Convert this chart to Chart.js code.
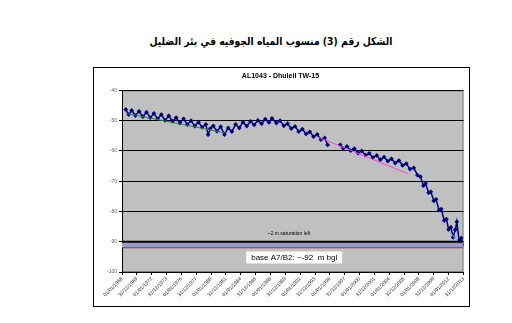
<!DOCTYPE html>
<html>
<head>
<meta charset="utf-8">
<script src="https://cdn.jsdelivr.net/npm/chart.js@4"></script>
<style>
    body { margin: 0; width: 512px; height: 323px; background: #fff; position: relative; overflow: hidden; }
    #titre { position: absolute; left: 0; top: 35px; width: 542px; text-align: center; font: bold 11px "DejaVu Sans"; direction: rtl; color: #000; transform: scaleX(0.84); transform-origin: 271px 0; }
    #cadre { position: absolute; left: 93px; top: 67px; width: 375px; height: 238px; border: 1px solid #000; }
</style>
</head>
<body>
<div id="titre">الشكل رقم (3) منسوب المياه الجوفيه في بئر الضليل</div>
<div id="cadre"><canvas id="graf" width="375" height="238"></canvas></div>
<script>
// fechas (año decimal) y nivel del agua (m)
const sampleYears = [
    1968.5, 1968.9, 1969.3, 1969.8, 1970.3, 1970.8, 1971.3, 1971.8, 1972.3, 1972.8,
    1973.3, 1973.8, 1974.3, 1974.8, 1975.3, 1975.8, 1976.3, 1976.8, 1977.3, 1977.8,
    1978.3, 1978.8, 1979.3, 1979.6, 1979.9, 1980.3, 1980.8, 1981.3, 1981.8, 1982.3,
    1982.8, 1983.3, 1983.8, 1984.3, 1984.8, 1985.3, 1985.8, 1986.3, 1986.8, 1987.3,
    1987.8, 1988.2, 1988.8, 1989.3, 1989.8, 1990.3, 1990.8, 1991.3, 1991.8, 1992.3,
    1992.8, 1993.3, 1993.8, 1994.3, 1994.8, 1995.3, 1995.7, 1996.5, 1997.4, 1997.8,
    1998.3, 1998.8, 1999.3, 1999.8, 2000.3, 2000.8, 2001.3, 2001.8, 2002.3, 2002.8,
    2003.3, 2003.8, 2004.3, 2004.8, 2005.3, 2005.8, 2006.3, 2006.8, 2007.3, 2007.8,
    2008.2, 2008.6, 2008.9, 2009.3, 2009.6, 2010.0, 2010.3, 2010.7, 2011.0, 2011.4,
    2011.7, 2012.0, 2012.3, 2012.6, 2012.9, 2013.1, 2013.4, 2013.7, 2013.9
];
const waterLevel = [
    -46.3, -48.0, -46.6, -48.3, -46.9, -48.7, -47.2, -49.0, -47.6, -49.4,
    -48.0, -49.9, -48.4, -50.2, -49.0, -50.8, -49.4, -51.3, -50.0, -51.8,
    -50.5, -52.2, -51.2, -54.6, -52.6, -51.7, -53.5, -52.0, -54.6, -52.4,
    -53.6, -51.2, -52.4, -50.5, -51.8, -50.2, -51.4, -49.9, -51.0, -49.5,
    -50.6, -49.2, -50.8, -50.0, -51.7, -51.0, -52.6, -51.9, -53.6, -52.8,
    -54.4, -53.7, -55.3, -54.5, -56.3, -55.7, -58.0, null, -58.0, -59.2,
    -58.5, -59.9, -59.2, -60.7, -60.0, -61.4, -60.8, -62.2, -61.5, -62.9,
    -62.0, -63.4, -62.6, -64.0, -63.2, -64.8, -64.2, -66.0, -65.6, -68.0,
    -68.5, -71.5, -70.8, -73.8, -73.5, -76.5, -76.0, -79.5, -79.2, -83.0,
    -82.5, -86.0, -85.2, -88.5, -86.0, -83.4, -89.6, -88.8, -91.0
];

// lineas de tendencia
const greenYears = [1968.6, 1981.8];
const greenLevel = [-47.6, -54.0];
const pinkYears = [1994.5, 2006.5];
const pinkLevel = [-55.5, -67.5];
const cyanYears = [2012.0, 2013.9];
const cyanLevel = [-86.5, -91.5];

// base del acuifero
const bandYears = [1968, 2014];
const bandTop = [-90, -90];
const bandBottom = [-92, -92];

// ejes
const tickYears = [1968, 1970, 1972, 1974, 1976, 1978, 1980, 1982, 1984, 1986, 1988, 1990,
    1992, 1994, 1996, 1998, 2000, 2002, 2004, 2006, 2008, 2010, 2012, 2014];
const tickLabels = ["01/01/1968", "31/12/1969", "01/01/1972", "31/12/1973", "01/01/1976", "31/12/1977",
    "01/01/1980", "31/12/1981", "01/01/1984", "31/12/1985", "01/01/1988", "31/12/1989",
    "01/01/1992", "31/12/1993", "01/01/1996", "31/12/1997", "01/01/2000", "31/12/2001",
    "01/01/2004", "31/12/2005", "01/01/2008", "31/12/2009", "01/01/2012", "31/12/2013"];
const yMin = -100, yMax = -40, yStep = 10;

const chartTitle = "AL1043 - Dhuleil TW-15";
const noteText = "~2 m saturation left";
const baseText = "base A7/B2: ~-92  m bgl";

function pares(xs, ys) {
    return xs.map((x, i) => ({ x: x, y: ys[i] }));
}

// fondo gris del area de trazado + textos
const fondoPlugin = {
    id: 'fondo',
    beforeDraw(chart) {
        const a = chart.chartArea, ctx = chart.ctx;
        ctx.save();
        ctx.fillStyle = "#c0c0c0";
        ctx.fillRect(a.left, a.top, a.right - a.left, a.bottom - a.top);
        ctx.strokeStyle = "#808080";
        ctx.lineWidth = 1;
        ctx.strokeRect(a.left + 0.5, a.top + 0.5, a.right - a.left - 1, a.bottom - a.top - 1);
        ctx.restore();
    },
    afterDatasetsDraw(chart) {
        const ctx = chart.ctx, x = chart.scales.x, y = chart.scales.y;
        ctx.save();
        ctx.fillStyle = "#000";
        ctx.textAlign = "center";
        ctx.textBaseline = "middle";
        ctx.font = "5px 'Liberation Sans'";
        ctx.fillText(noteText, x.getPixelForValue(1990.5), y.getPixelForValue(-87.4));

        const cx = x.getPixelForValue(1991.2), cy = y.getPixelForValue(-95.2);
        ctx.fillStyle = "#fff";
        ctx.fillRect(cx - 48, cy - 6, 96, 12);
        ctx.fillStyle = "#000";
        ctx.font = "8px 'Liberation Sans'";
        ctx.fillText(baseText, cx, cy);
        ctx.restore();
    }
};

new Chart(document.getElementById("graf"), {
    type: 'line',
    data: {
        datasets: [
            {
                data: pares(bandYears, bandTop),
                borderColor: "#000",
                borderWidth: 2,
                pointRadius: 0,
                fill: false
            },
            {
                data: pares(bandYears, bandBottom),
                borderColor: "#993333",
                borderWidth: 1,
                pointRadius: 0,
                backgroundColor: "#9999cc",
                fill: '-1'
            },
            {
                data: pares(greenYears, greenLevel),
                borderColor: "#2e8b2e",
                borderWidth: 1,
                pointRadius: 0
            },
            {
                data: pares(pinkYears, pinkLevel),
                borderColor: "#ff44cc",
                borderWidth: 1,
                pointRadius: 0
            },
            {
                data: pares(cyanYears, cyanLevel),
                borderColor: "#33ccff",
                borderWidth: 1,
                pointRadius: 0
            },
            {
                data: pares(sampleYears, waterLevel),
                borderColor: "#000080",
                backgroundColor: "#000080",
                borderWidth: 1.5,
                pointStyle: 'rectRot',
                pointRadius: 1.3,
                spanGaps: false
            }
        ]
    },
    options: {
        responsive: false,
        devicePixelRatio: 1,
        animation: false,
        layout: { padding: { left: 0, right: 2, top: 0, bottom: 0 } },
        plugins: {
            legend: { display: false },
            tooltip: { enabled: false },
            title: {
                display: true,
                text: chartTitle,
                color: "#000",
                font: { family: "Liberation Sans", size: 7, weight: 'bold' },
                padding: { top: 4, bottom: 10 }
            }
        },
        scales: {
            x: {
                type: 'linear',
                min: tickYears[0],
                max: tickYears[tickYears.length - 1],
                afterBuildTicks: (scale) => { scale.ticks = tickYears.map(v => ({ value: v })); },
                afterFit: (scale) => { scale.height = 34; },
                border: { color: "#000", width: 1 },
                grid: { drawOnChartArea: false, drawTicks: true, tickLength: 3, color: "#000" },
                ticks: {
                    minRotation: 45,
                    maxRotation: 45,
                    autoSkip: false,
                    padding: 1,
                    color: "#222",
                    font: { family: "Liberation Sans", size: 5 },
                    callback: (v) => tickLabels[tickYears.indexOf(v)]
                }
            },
            y: {
                min: yMin,
                max: yMax,
                afterFit: (scale) => { scale.width = 28; },
                border: { color: "#000", width: 1 },
                grid: { color: "#000", lineWidth: 1, tickLength: 3 },
                ticks: {
                    stepSize: yStep,
                    padding: 2,
                    color: "#666",
                    font: { family: "Liberation Sans", size: 5 }
                }
            }
        }
    },
    plugins: [fondoPlugin]
});
</script>
</body>
</html>
